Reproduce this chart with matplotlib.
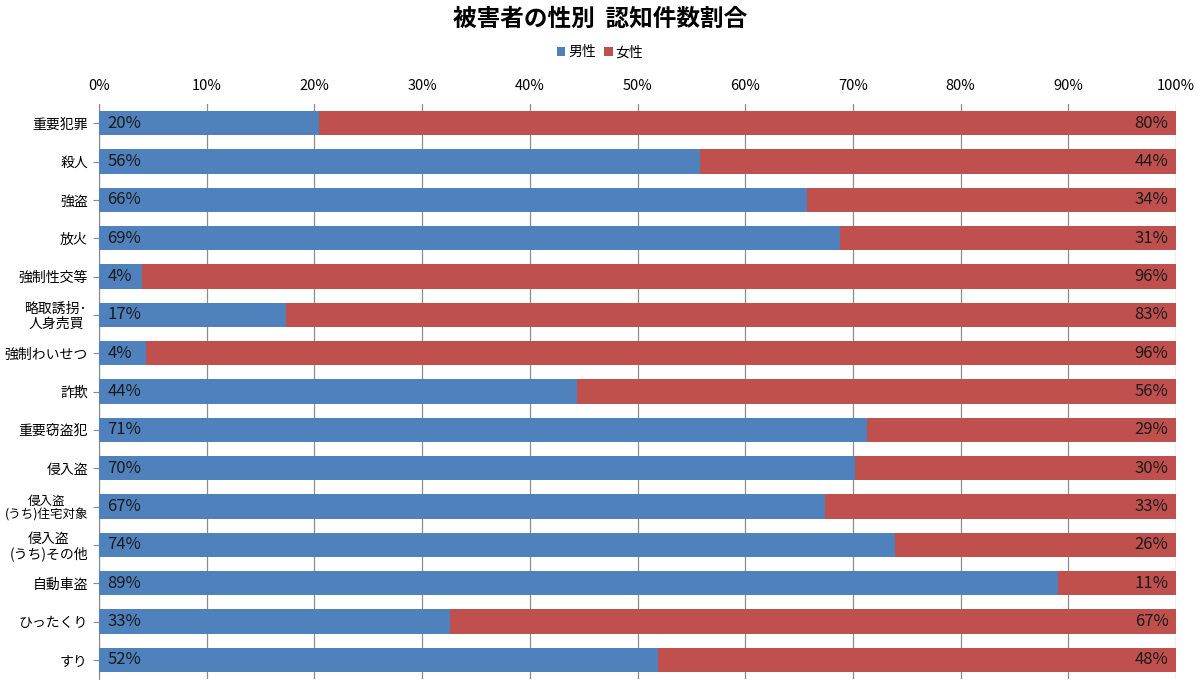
import matplotlib
matplotlib.use("Agg")
import matplotlib.pyplot as plt
import numpy as np

plt.rcParams['font.family'] = ['Noto Sans CJK JP', 'DejaVu Sans']

# crime categories, top to bottom
categories = ["重要犯罪", "殺人", "強盗", "放火", "強制性交等", "略取誘拐･\n人身売買",
              "強制わいせつ", "詐欺", "重要窃盗犯", "侵入盗", "侵入盗\n(うち)住宅対象",
              "侵入盗\n(うち)その他", "自動車盗", "ひったくり", "すり"]
# share of male victims (%)
male = [20.4, 55.8, 65.7, 68.8, 4.0, 17.4, 4.4, 44.4, 71.3, 70.2, 67.4, 73.9, 89.0, 32.6, 51.9]
female = [100 - m for m in male]
series_names = ["男性", "女性"]
ticks = [0, 10, 20, 30, 40, 50, 60, 70, 80, 90, 100]

BLUE = "#4F81BD"
RED = "#C0504D"

fig = plt.figure(figsize=(12, 6.89), dpi=100)
ax = fig.add_axes([0.0825, 0.0145, 0.8975, 0.8345])

y = np.arange(len(categories))
hb = ax.barh(y, male, height=0.63, color=BLUE, label=series_names[0], zorder=3)
hr = ax.barh(y, female, left=male, height=0.63, color=RED, label=series_names[1], zorder=3)

for i in range(len(categories)):
    ax.text(0.8, y[i], f"{male[i]:.0f}%", va="center", ha="left",
            fontsize=12, color="#1a1a1a", zorder=4)
    ax.text(99.3, y[i], f"{female[i]:.0f}%", va="center", ha="right",
            fontsize=12, color="#1a1a1a", zorder=4)

ax.set_xlim(0, 100)
ax.set_ylim(len(categories) - 0.5, -0.5)
ax.set_xticks(ticks)
ax.set_xticklabels([f"{t}%" for t in ticks], fontsize=10.5)
ax.xaxis.tick_top()
ax.tick_params(axis="x", length=0, pad=8)
ax.set_yticks(y)
ax.set_yticklabels(categories, fontsize=10, multialignment="center", linespacing=1.05)
ax.tick_params(axis="y", length=4, color="#888888", pad=4)
# the long two-line label would run off the left edge
ax.get_yticklabels()[10].set_fontsize(9)
ax.grid(axis="x", color="#8c8c8c", linewidth=0.9, zorder=0)
for s in ["top", "right", "bottom"]:
    ax.spines[s].set_visible(False)
ax.spines["left"].set_color("#888888")

fig.text(0.5, 0.972, "被害者の性別  認知件数割合", ha="center", va="center",
         fontsize=17, fontweight="bold")
fig.legend(handles=[hb, hr], labels=series_names, loc="center", bbox_to_anchor=(0.5, 0.924),
           ncol=2, frameon=False, fontsize=10, handlelength=0.6, handleheight=0.6,
           handletextpad=0.2, columnspacing=0.6)

fig.savefig("out.png", dpi=100)
